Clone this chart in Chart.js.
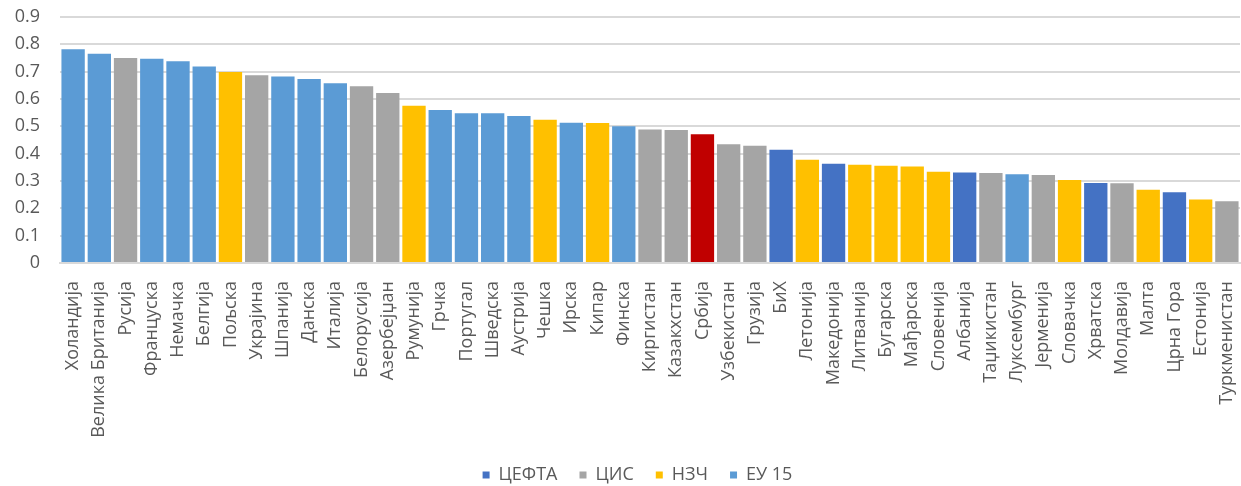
<!DOCTYPE html>
<html>
<head>
<meta charset="utf-8">
<script src="https://cdn.jsdelivr.net/npm/chart.js@4/dist/chart.umd.min.js"></script>
<style>
  html, body { margin: 0; padding: 0; background: #fff; }
  #wrap { width: 1241px; height: 486px; position: relative; }
</style>
</head>
<body>
<div id="wrap"><canvas id="chart"></canvas></div>
<script>
// ── Data ──
const countries = ['Холандија','Велика Британија','Русија','Француска','Немачка','Белгија','Пољска','Украјина','Шпанија','Данска','Италија','Белорусија','Азербејџан','Румунија','Грчка','Португал','Шведска','Аустрија','Чешка','Ирска','Кипар','Финска','Киргистан','Казакхстан','Србија','Узбекистан','Грузија','БиХ','Летонија','Македонија','Литванија','Бугарска','Мађарска','Словенија','Албанија','Таџикистан','Луксембург','Јерменија','Словачка','Хрватска','Молдавија','Малта','Црна Гора','Естонија','Туркменистан'];
const values = [0.782,0.766,0.750,0.747,0.738,0.719,0.699,0.687,0.682,0.673,0.658,0.647,0.622,0.575,0.560,0.548,0.548,0.538,0.524,0.513,0.512,0.500,0.488,0.487,0.471,0.434,0.429,0.414,0.378,0.363,0.359,0.356,0.353,0.334,0.331,0.329,0.325,0.322,0.304,0.293,0.292,0.268,0.259,0.232,0.226];
const groups = ['EU','EU','CIS','EU','EU','EU','NZC','CIS','EU','EU','EU','CIS','CIS','NZC','EU','EU','EU','EU','NZC','EU','NZC','EU','CIS','CIS','SRB','CIS','CIS','CEFTA','NZC','CEFTA','NZC','NZC','NZC','NZC','CEFTA','CIS','EU','CIS','NZC','CEFTA','CIS','NZC','CEFTA','NZC','CIS'];
const legendKeys = ['CEFTA','CIS','NZC','EU'];
const legendNames = ['ЦЕФТА','ЦИС','НЗЧ','ЕУ 15'];

const colors = { CEFTA: '#4472C4', CIS: '#A5A5A5', NZC: '#FFC000', EU: '#5B9BD5', SRB: '#C00000' };
const TXT = '#595959';
const FONT = '"Open Sans", "Noto Sans", sans-serif';

// nudge the legend so it is centred under the plot, not the canvas
const legendShift = {
  id: 'legendShift',
  afterLayout(chart) {
    chart.legend.left += 17;
    chart.legend.right += 17;
  }
};

new Chart(document.getElementById('chart').getContext('2d'), {
  type: 'bar',
  data: {
    labels: countries,
    datasets: [{
      label: 'vrednost',
      data: values,
      backgroundColor: groups.map(g => colors[g]),
      borderWidth: 0,
      barPercentage: 0.89,
      categoryPercentage: 1.0
    }]
  },
  plugins: [legendShift],
  options: {
    responsive: true,
    maintainAspectRatio: false,
    animation: false,
    layout: { padding: { left: 0, right: 0, top: 0, bottom: -8 } },
    plugins: {
      tooltip: { enabled: false },
      legend: {
        position: 'bottom',
        labels: {
          color: TXT,
          font: { family: FONT, size: 18 },
          boxWidth: 7,
          boxHeight: 7,
          padding: 22,
          generateLabels: () => legendKeys.map((k, i) => ({
            text: legendNames[i],
            fillStyle: colors[k],
            strokeStyle: colors[k],
            lineWidth: 0,
            fontColor: TXT,
            hidden: false,
            datasetIndex: 0
          }))
        },
        onClick: () => {}
      }
    },
    scales: {
      x: {
        afterFit: s => { s.height = 181; s.paddingRight = 1; s.paddingLeft = 0; },
        grid: { display: false },
        border: { color: '#D9D9D9', width: 2 },
        ticks: {
          color: TXT,
          font: { family: FONT, size: 18 },
          minRotation: 90,
          maxRotation: 90,
          autoSkip: false,
          padding: 10
        }
      },
      y: {
        min: 0,
        max: 0.9,
        afterFit: s => { s.width = 60; s.paddingTop = 17; },
        grid: { color: '#D9D9D9', lineWidth: 2, drawTicks: false },
        border: { display: false },
        ticks: {
          stepSize: 0.1,
          color: TXT,
          font: { family: FONT, size: 18 },
          padding: 20,
          callback: v => (Math.round(v * 10) / 10).toString()
        }
      }
    }
  }
});
</script>
</body>
</html>
